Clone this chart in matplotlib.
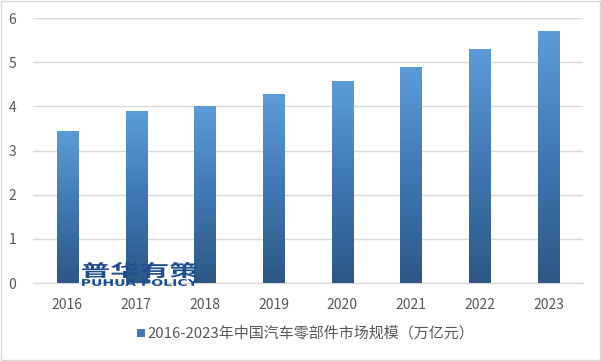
import numpy as np
import matplotlib.pyplot as plt
from matplotlib.colors import LinearSegmentedColormap
from matplotlib.patches import Rectangle, PathPatch
from matplotlib.textpath import TextPath
from matplotlib.font_manager import FontProperties
from matplotlib.transforms import Affine2D

plt.rcParams['font.family'] = ['Noto Sans CJK SC', 'DejaVu Sans']

# datos
years = ['2016', '2017', '2018', '2019', '2020', '2021', '2022', '2023']
valores = [3.45, 3.9, 4.0, 4.27, 4.57, 4.9, 5.3, 5.7]
yticks = [0, 1, 2, 3, 4, 5, 6]
leyenda = '2016-2023年中国汽车零部件市场规模（万亿元）'

gris_txt = '#595959'
cmap = LinearSegmentedColormap.from_list('barra', ['#2c5786', '#3f78b4', '#5b9dd9'])
W, H = 601, 361

fig = plt.figure(figsize=(6.01, 3.61), dpi=100)
ax = fig.add_axes([0.055, 0.216, 0.915, 0.734])

x = np.arange(len(years))
bars = ax.bar(x, valores, width=0.31, color='none', zorder=3)

# relleno degradado por barra
grad = np.linspace(0, 1, 256).reshape(-1, 1)
for b in bars:
    x0, y0 = b.get_x(), b.get_y()
    w, h = b.get_width(), b.get_height()
    im = ax.imshow(grad, cmap=cmap, aspect='auto', origin='lower',
                   extent=[x0, x0 + w, y0, y0 + h], zorder=3)
    im.set_clip_path(b)

ax.set_xlim(-0.5, len(years) - 0.5)
ax.set_ylim(0, 6)
ax.set_yticks(yticks)
ax.set_xticks(x)
ax.set_xticklabels(years)
ax.grid(axis='y', color='#d9d9d9', linewidth=1, zorder=0)
for s in ['top', 'right', 'left']:
    ax.spines[s].set_visible(False)
ax.spines['bottom'].set_color('#d9d9d9')
ax.tick_params(axis='both', length=0, colors=gris_txt, labelsize=10)
ax.tick_params(axis='y', pad=12)
ax.tick_params(axis='x', pad=11)


def texto_caja(s, px0, py0, px1, py1, familia, color='#1f4f8f'):
    # texto estirado para llenar una caja dada en pixeles (origen arriba a la izquierda)
    tp = TextPath((0, 0), s, size=10, prop=FontProperties(family=familia, weight='bold'))
    bb = tp.get_extents()
    fx0, fx1 = px0 / W, px1 / W
    fy0, fy1 = 1 - py1 / H, 1 - py0 / H
    tr = Affine2D().translate(-bb.x0, -bb.y0).scale((fx1 - fx0) / bb.width, (fy1 - fy0) / bb.height).translate(fx0, fy0)
    fig.patches.append(PathPatch(tr.transform_path(tp), transform=fig.transFigure,
                                 facecolor=color, edgecolor='none', zorder=5))


# marca de agua
texto_caja('普华有策', 82, 262, 198, 278, 'Noto Sans CJK SC')
texto_caja('PUHUA POLICY', 82, 279, 198, 286, 'DejaVu Sans')

# leyenda
fig.patches.append(Rectangle((0.228, 0.066), 0.0135, 0.022, transform=fig.transFigure,
                             facecolor='#3f78b4', edgecolor='none'))
fig.text(0.246, 0.077, leyenda, fontsize=10.8, color=gris_txt, va='center', ha='left')

# borde
fig.patches.append(Rectangle((0.001, 0.002), 0.997, 0.995, transform=fig.transFigure,
                             facecolor='none', edgecolor='#d9d9d9', linewidth=1))

fig.savefig('out.png', dpi=100)
